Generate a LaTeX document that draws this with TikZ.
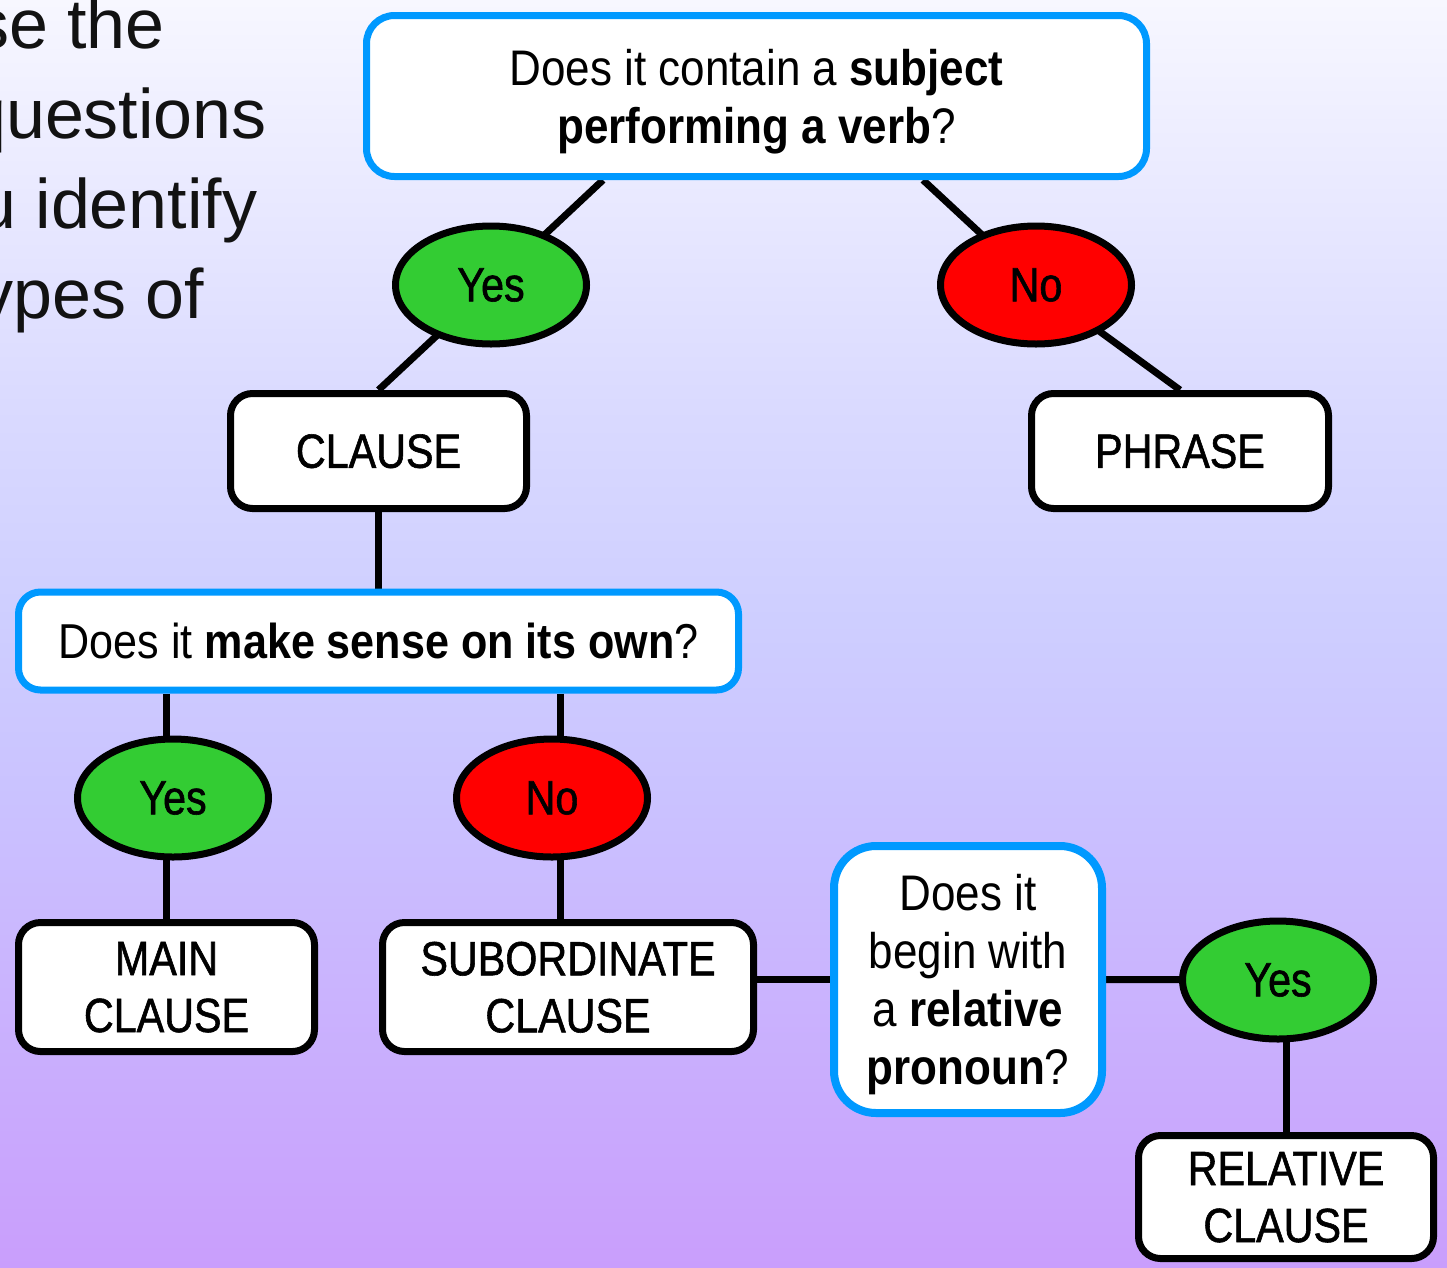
\documentclass[tikz,border=0pt]{standalone}
\usepackage{fontspec}
\setmainfont{Liberation Sans}
\newfontfamily\cond[FakeStretch=0.88]{Liberation Sans}
\newfontfamily\condmed[FakeStretch=0.86,FakeBold=1.2]{Liberation Sans}
\usetikzlibrary{shapes.geometric}
\pgfdeclarelayer{bg}
\pgfdeclarelayer{edges}
\pgfsetlayers{bg,edges,main}
\definecolor{qblue}{RGB}{0,153,255}
\definecolor{ygreen}{RGB}{51,204,51}
\definecolor{nred}{RGB}{255,0,0}
\definecolor{bgtop}{RGB}{247,247,255}
\definecolor{bgA}{RGB}{218,218,255}
\definecolor{bgB}{RGB}{206,206,255}
\definecolor{bgC}{RGB}{202,194,255}
\definecolor{bgbot}{RGB}{201,158,252}
\pgfdeclareverticalshading{bgshade}{100bp}{color(0bp)=(bgbot); color(25bp)=(bgbot); color(43.5bp)=(bgC); color(50.5bp)=(bgB); color(59bp)=(bgA); color(75bp)=(bgtop); color(100bp)=(bgtop)}
\tikzset{
  qfont/.style={font=\cond\fontsize{50}{58}\selectfont},
  lblfont/.style={font=\condmed\fontsize{48}{57}\selectfont},
  qbox/.style={qfont, draw=qblue, line width=7pt, fill=white, rounded corners=28pt, align=center, inner sep=0pt, text depth=0pt},
  abox/.style={lblfont, draw=black, line width=7pt, fill=white, rounded corners=22pt, align=center, inner sep=0pt, text depth=0pt},
  yesell/.style={lblfont, ellipse, draw=black, line width=7pt, fill=ygreen, minimum width=191pt, minimum height=118pt, inner sep=0pt},
  noell/.style={yesell, fill=nred},
  conn/.style={draw=black, line width=7pt},
  introtext/.style={anchor=base west, inner sep=0pt, font=\fontsize{70}{80}\selectfont, text=black!93}
}
\begin{document}
\begin{tikzpicture}[x=1pt,y=-1pt]
\useasboundingbox (0,0) rectangle (1447,1267);
\clip (0,0) rectangle (1447,1267);
\begin{pgfonlayer}{bg}
\shade[shading=bgshade] (0,0) rectangle (1447,1267);
\end{pgfonlayer}

% intro text (cut off at the left edge as in the reference)
\node[introtext] (t1) at (-26,48) {se the};
\node[introtext] (t2) at (-33,138) {questions};
\node[introtext] (t3) at (-23,228) {u identify};
\node[introtext] (t4) at (-22,318) {ypes of};

% question boxes
\node[qbox, minimum width=780pt, minimum height=161pt] (q1) at (756.5,96)
  {Does it contain a \textbf{subject}\\\textbf{performing a verb}?};
\node[qbox, font=\cond\fontsize{49}{58}\selectfont, minimum width=720pt, minimum height=98pt, rounded corners=22pt] (q2) at (378.5,641)
  {Does it \textbf{make sense on its own}?};
\node[qbox, line width=8pt, minimum width=268pt, minimum height=267pt, rounded corners=42pt] (q3) at (968,979.5)
  {Does it\\begin with\\a \textbf{relative}\\\textbf{pronoun}?};

% answers
\node[yesell] (yes1) at (491,285) {Yes};
\node[noell] (no1) at (1036,285) {No};
\node[yesell] (yes2) at (173,798) {Yes};
\node[noell] (no2) at (552,798) {No};
\node[yesell] (yes3) at (1278,980) {Yes};

% result boxes
\node[abox, minimum width=296pt, minimum height=115pt] (clause) at (378.5,451) {CLAUSE};
\node[abox, minimum width=297pt, minimum height=115pt] (phrase) at (1180,451) {PHRASE};
\node[abox, minimum width=296pt, minimum height=129pt] (main) at (166.5,987) {MAIN\\CLAUSE};
\node[abox, minimum width=371pt, minimum height=129pt] (sub) at (568,987) {SUBORDINATE\\CLAUSE};
\node[abox, minimum width=295pt, minimum height=123pt] (rel) at (1286,1197) {RELATIVE\\CLAUSE};

\coordinate (q1l) at ([xshift=-153.5pt]q1.south);
\coordinate (q1r) at ([xshift=166.5pt]q1.south);
\coordinate (subtop) at ([xshift=-8pt]sub.north);

\begin{pgfonlayer}{edges}
\draw[conn] (q1l) -- (yes1.center) -- (clause.north);
\draw[conn] (q1r) -- (no1.center) -- (phrase.north);
\draw[conn] (clause.south) -- (q2.north);
\draw[conn] (q2.south -| main.north) -- (main.north);
\draw[conn] (q2.south -| subtop) -- (subtop);
\draw[conn] (q3.west -| sub.east) -- (q3.west);
\draw[conn] (q3.east) -- (yes3.center);
\draw[conn] (rel.north |- yes3.center) -- (rel.north);
\end{pgfonlayer}
\end{tikzpicture}
\end{document}
